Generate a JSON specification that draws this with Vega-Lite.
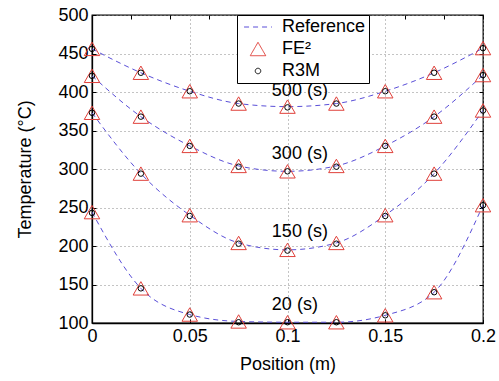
{
  "$schema": "https://vega.github.io/schema/vega-lite/v6.json",
  "width": 391,
  "height": 308,
  "autosize": "none",
  "padding": {"left": 92, "top": 15, "right": 16, "bottom": 58},
  "background": "white",
  "config": {
    "font": "Liberation Sans",
    "view": {"stroke": "black", "strokeWidth": 1.3},
    "axis": {
      "domainColor": "black",
      "domainWidth": 1.3,
      "tickColor": "black",
      "tickSize": -4,
      "labelFontSize": 18,
      "labelColor": "black",
      "labelFlush": false,
      "titleFontSize": 18,
      "titleFontWeight": "normal",
      "titleColor": "black",
      "gridColor": "#888888",
      "gridDash": [1, 3],
      "gridWidth": 1
    },
    "legend": {
      "labelFontSize": 18,
      "labelColor": "black"
    }
  },
  "datasets": {
    "pts": [
      {"series": "Reference", "time": 500, "x": 0, "y": 456},
      {"series": "Reference", "time": 500, "x": 0.025, "y": 425},
      {"series": "Reference", "time": 500, "x": 0.05, "y": 401},
      {"series": "Reference", "time": 500, "x": 0.075, "y": 385},
      {"series": "Reference", "time": 500, "x": 0.1, "y": 381},
      {"series": "Reference", "time": 500, "x": 0.125, "y": 385},
      {"series": "Reference", "time": 500, "x": 0.15, "y": 401},
      {"series": "Reference", "time": 500, "x": 0.175, "y": 425},
      {"series": "Reference", "time": 500, "x": 0.2, "y": 457},
      {"series": "Reference", "time": 300, "x": 0, "y": 421},
      {"series": "Reference", "time": 300, "x": 0.025, "y": 368},
      {"series": "Reference", "time": 300, "x": 0.05, "y": 330},
      {"series": "Reference", "time": 300, "x": 0.075, "y": 304},
      {"series": "Reference", "time": 300, "x": 0.1, "y": 297},
      {"series": "Reference", "time": 300, "x": 0.125, "y": 304},
      {"series": "Reference", "time": 300, "x": 0.15, "y": 330},
      {"series": "Reference", "time": 300, "x": 0.175, "y": 368},
      {"series": "Reference", "time": 300, "x": 0.2, "y": 422},
      {"series": "Reference", "time": 150, "x": 0, "y": 373},
      {"series": "Reference", "time": 150, "x": 0.025, "y": 294},
      {"series": "Reference", "time": 150, "x": 0.05, "y": 240},
      {"series": "Reference", "time": 150, "x": 0.075, "y": 204},
      {"series": "Reference", "time": 150, "x": 0.1, "y": 195},
      {"series": "Reference", "time": 150, "x": 0.125, "y": 204},
      {"series": "Reference", "time": 150, "x": 0.15, "y": 240},
      {"series": "Reference", "time": 150, "x": 0.175, "y": 294},
      {"series": "Reference", "time": 150, "x": 0.2, "y": 376},
      {"series": "Reference", "time": 20, "x": 0, "y": 244},
      {"series": "Reference", "time": 20, "x": 0.025, "y": 145},
      {"series": "Reference", "time": 20, "x": 0.05, "y": 111},
      {"series": "Reference", "time": 20, "x": 0.075, "y": 102},
      {"series": "Reference", "time": 20, "x": 0.1, "y": 101},
      {"series": "Reference", "time": 20, "x": 0.125, "y": 101},
      {"series": "Reference", "time": 20, "x": 0.15, "y": 110},
      {"series": "Reference", "time": 20, "x": 0.175, "y": 140},
      {"series": "Reference", "time": 20, "x": 0.2, "y": 253},

      {"series": "FE²", "time": 500, "x": 0, "y": 456},
      {"series": "FE²", "time": 500, "x": 0.025, "y": 425},
      {"series": "FE²", "time": 500, "x": 0.05, "y": 401},
      {"series": "FE²", "time": 500, "x": 0.075, "y": 385},
      {"series": "FE²", "time": 500, "x": 0.1, "y": 381},
      {"series": "FE²", "time": 500, "x": 0.125, "y": 385},
      {"series": "FE²", "time": 500, "x": 0.15, "y": 401},
      {"series": "FE²", "time": 500, "x": 0.175, "y": 425},
      {"series": "FE²", "time": 500, "x": 0.2, "y": 457},
      {"series": "FE²", "time": 300, "x": 0, "y": 421},
      {"series": "FE²", "time": 300, "x": 0.025, "y": 368},
      {"series": "FE²", "time": 300, "x": 0.05, "y": 330},
      {"series": "FE²", "time": 300, "x": 0.075, "y": 304},
      {"series": "FE²", "time": 300, "x": 0.1, "y": 297},
      {"series": "FE²", "time": 300, "x": 0.125, "y": 304},
      {"series": "FE²", "time": 300, "x": 0.15, "y": 330},
      {"series": "FE²", "time": 300, "x": 0.175, "y": 368},
      {"series": "FE²", "time": 300, "x": 0.2, "y": 422},
      {"series": "FE²", "time": 150, "x": 0, "y": 373},
      {"series": "FE²", "time": 150, "x": 0.025, "y": 294},
      {"series": "FE²", "time": 150, "x": 0.05, "y": 240},
      {"series": "FE²", "time": 150, "x": 0.075, "y": 204},
      {"series": "FE²", "time": 150, "x": 0.1, "y": 195},
      {"series": "FE²", "time": 150, "x": 0.125, "y": 204},
      {"series": "FE²", "time": 150, "x": 0.15, "y": 240},
      {"series": "FE²", "time": 150, "x": 0.175, "y": 294},
      {"series": "FE²", "time": 150, "x": 0.2, "y": 376},
      {"series": "FE²", "time": 20, "x": 0, "y": 244},
      {"series": "FE²", "time": 20, "x": 0.025, "y": 145},
      {"series": "FE²", "time": 20, "x": 0.05, "y": 111},
      {"series": "FE²", "time": 20, "x": 0.075, "y": 102},
      {"series": "FE²", "time": 20, "x": 0.1, "y": 101},
      {"series": "FE²", "time": 20, "x": 0.125, "y": 101},
      {"series": "FE²", "time": 20, "x": 0.15, "y": 110},
      {"series": "FE²", "time": 20, "x": 0.175, "y": 140},
      {"series": "FE²", "time": 20, "x": 0.2, "y": 253},

      {"series": "R3M", "time": 500, "x": 0, "y": 456},
      {"series": "R3M", "time": 500, "x": 0.025, "y": 425},
      {"series": "R3M", "time": 500, "x": 0.05, "y": 401},
      {"series": "R3M", "time": 500, "x": 0.075, "y": 385},
      {"series": "R3M", "time": 500, "x": 0.1, "y": 380},
      {"series": "R3M", "time": 500, "x": 0.125, "y": 385},
      {"series": "R3M", "time": 500, "x": 0.15, "y": 401},
      {"series": "R3M", "time": 500, "x": 0.175, "y": 425},
      {"series": "R3M", "time": 500, "x": 0.2, "y": 457},
      {"series": "R3M", "time": 300, "x": 0, "y": 421},
      {"series": "R3M", "time": 300, "x": 0.025, "y": 368},
      {"series": "R3M", "time": 300, "x": 0.05, "y": 330},
      {"series": "R3M", "time": 300, "x": 0.075, "y": 303},
      {"series": "R3M", "time": 300, "x": 0.1, "y": 297},
      {"series": "R3M", "time": 300, "x": 0.125, "y": 303},
      {"series": "R3M", "time": 300, "x": 0.15, "y": 330},
      {"series": "R3M", "time": 300, "x": 0.175, "y": 368},
      {"series": "R3M", "time": 300, "x": 0.2, "y": 422},
      {"series": "R3M", "time": 150, "x": 0, "y": 373},
      {"series": "R3M", "time": 150, "x": 0.025, "y": 294},
      {"series": "R3M", "time": 150, "x": 0.05, "y": 239},
      {"series": "R3M", "time": 150, "x": 0.075, "y": 203},
      {"series": "R3M", "time": 150, "x": 0.1, "y": 194},
      {"series": "R3M", "time": 150, "x": 0.125, "y": 203},
      {"series": "R3M", "time": 150, "x": 0.15, "y": 239},
      {"series": "R3M", "time": 150, "x": 0.175, "y": 294},
      {"series": "R3M", "time": 150, "x": 0.2, "y": 376},
      {"series": "R3M", "time": 20, "x": 0, "y": 243},
      {"series": "R3M", "time": 20, "x": 0.025, "y": 145},
      {"series": "R3M", "time": 20, "x": 0.05, "y": 111},
      {"series": "R3M", "time": 20, "x": 0.075, "y": 101},
      {"series": "R3M", "time": 20, "x": 0.1, "y": 101},
      {"series": "R3M", "time": 20, "x": 0.125, "y": 101},
      {"series": "R3M", "time": 20, "x": 0.15, "y": 110},
      {"series": "R3M", "time": 20, "x": 0.175, "y": 140},
      {"series": "R3M", "time": 20, "x": 0.2, "y": 253}
    ],
    "labels": [
      {"label": "500 (s)", "x": 0.092, "y": 401},
      {"label": "300 (s)", "x": 0.092, "y": 319},
      {"label": "150 (s)", "x": 0.092, "y": 218},
      {"label": "20 (s)", "x": 0.092, "y": 124}
    ]
  },
  "layer": [
    {
      "data": {"name": "pts"},
      "transform": [{"filter": "datum.series === 'Reference'"}],
      "mark": {"type": "line", "interpolate": "monotone", "strokeWidth": 1, "clip": true},
      "encoding": {
        "x": {"field": "x", "type": "quantitative", "scale": {"domain": [0, 0.2], "nice": false, "zero": false},
              "axis": {"title": "Position (m)", "values": [0, 0.05, 0.1, 0.15, 0.2], "format": "~g", "grid": true, "labelPadding": 8, "titlePadding": 10}},
        "y": {"field": "y", "type": "quantitative", "scale": {"domain": [100, 500], "nice": false, "zero": false},
              "axis": {"title": "Temperature (°C)", "values": [100, 150, 200, 250, 300, 350, 400, 450, 500], "grid": true, "labelPadding": 8, "titlePadding": 23}},
        "detail": {"field": "time", "type": "nominal"},
        "color": {"field": "series", "type": "nominal",
                  "scale": {"domain": ["Reference", "FE²", "R3M"], "range": ["#5a4fd8", "#e0403a", "#000000"]},
                  "legend": {"title": null, "orient": "none", "legendX": 145, "legendY": 0,
                             "strokeColor": "black", "fillColor": "white", "padding": 3, "rowPadding": 4,
                             "symbolOffset": 9, "symbolStrokeWidth": 1, "labelOffset": 15,
                             "labelExpr": "datum.label + '\u00a0\u00a0'"}},
        "strokeDash": {"field": "series", "type": "nominal",
                       "scale": {"domain": ["Reference", "FE²", "R3M"], "range": [[5, 4], [1, 0], [1, 0]]},
                       "legend": {"title": null, "orient": "none", "legendX": 145, "legendY": 0}}
      }
    },
    {
      "data": {"name": "pts"},
      "transform": [{"filter": "datum.series !== 'Reference'"}],
      "mark": {"type": "point", "filled": false, "strokeWidth": 1, "opacity": 1},
      "encoding": {
        "x": {"field": "x", "type": "quantitative", "axis": {"orient": "top", "labels": false, "title": null, "grid": false, "domain": false}},
        "y": {"field": "y", "type": "quantitative", "axis": {"orient": "right", "labels": false, "title": null, "grid": false, "domain": false}},
        "color": {"field": "series", "type": "nominal"},
        "shape": {"field": "series", "type": "nominal",
                  "scale": {"domain": ["Reference", "FE²", "R3M"], "range": ["M-1.8,0L1.8,0", "triangle-up", "circle"]},
                  "legend": {"title": null, "orient": "none", "legendX": 145, "legendY": 0}},
        "size": {"field": "series", "type": "nominal",
                 "scale": {"type": "ordinal", "domain": ["Reference", "FE²", "R3M"], "range": [240, 240, 30]},
                 "legend": {"title": null, "orient": "none", "legendX": 145, "legendY": 0}},
        "order": {"field": "series", "sort": "ascending"}
      }
    },
    {
      "data": {"name": "labels"},
      "mark": {"type": "text", "align": "left", "baseline": "middle", "fontSize": 18, "color": "black"},
      "encoding": {
        "x": {"field": "x", "type": "quantitative", "axis": null},
        "y": {"field": "y", "type": "quantitative", "axis": null},
        "text": {"field": "label"}
      }
    }
  ],
  "resolve": {"axis": {"x": "independent", "y": "independent"}}
}
